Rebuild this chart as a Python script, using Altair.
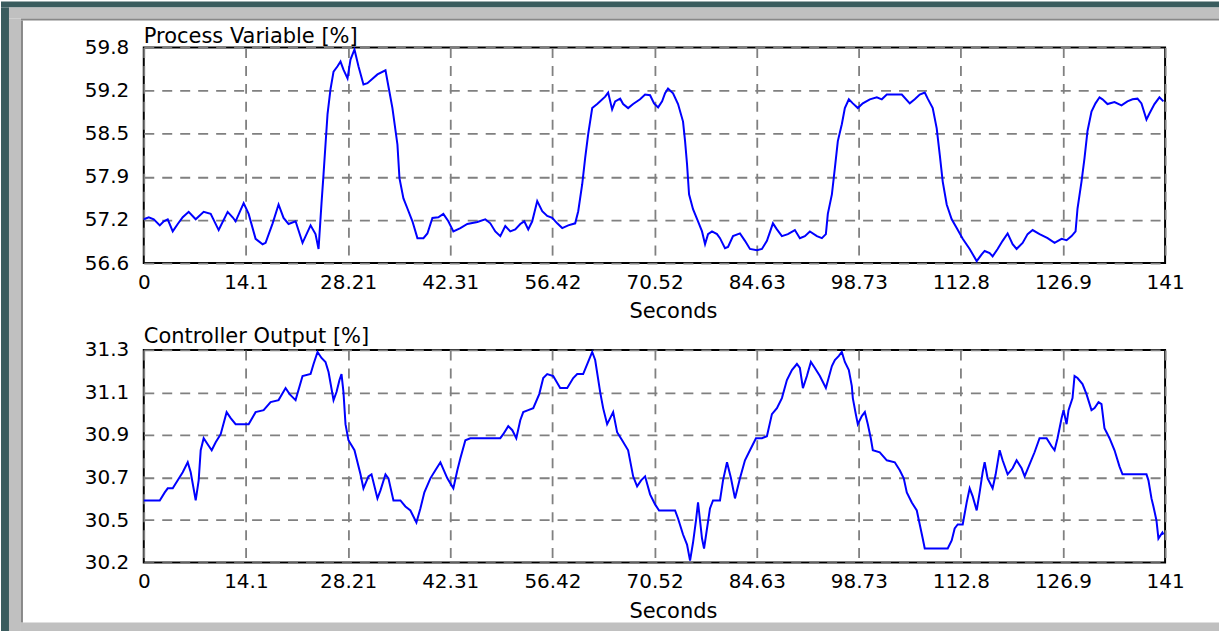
import altair as alt
import pandas as pd

# ---------------- data ----------------
pv_time = [0, 0.69, 1.38, 2.21, 2.76, 3.31, 4.00, 4.69, 5.38, 6.20,
           7.17, 8.27, 9.24, 10.34, 11.58, 12.27, 12.68, 13.79, 14.48, 15.44,
           16.41, 16.82, 17.79, 18.61, 19.30, 19.99, 20.96, 21.92, 23.03, 23.71,
           24.13, 24.54, 24.82, 25.09, 25.37, 25.78, 26.20, 26.75, 27.16, 27.57,
           28.13, 28.54, 29.09, 29.64, 30.33, 30.88, 32.26, 33.37, 33.78, 34.33,
           35.02, 35.30, 35.85, 36.40, 37.09, 37.78, 38.61, 39.16, 39.85, 40.67,
           41.36, 42.05, 42.74, 43.71, 44.67, 46.05, 47.15, 47.84, 48.53, 49.22,
           49.91, 50.60, 51.29, 51.98, 52.53, 53.08, 53.63, 54.32, 55.01, 55.70,
           56.39, 57.08, 57.77, 58.60, 59.56, 59.98, 60.53, 60.94, 61.35, 61.91,
           62.60, 63.01, 63.70, 64.11, 64.66, 65.08, 65.77, 66.18, 66.87, 67.56,
           68.52, 69.21, 69.90, 70.45, 71.01, 71.56, 71.97, 72.38, 73.07, 73.76,
           74.45, 74.73, 75.00, 75.28, 75.83, 76.52, 77.07, 77.49, 77.90, 78.45,
           79.14, 79.55, 80.24, 80.66, 81.35, 82.31, 83.00, 83.69, 84.66, 85.34,
           86.03, 86.86, 87.41, 88.10, 88.93, 89.89, 90.58, 91.27, 91.96, 92.93,
           93.62, 94.17, 94.44, 95.00, 95.41, 95.82, 96.37, 96.79, 97.34, 97.89,
           98.58, 99.27, 100.24, 101.20, 101.89, 102.58, 103.68, 104.65, 105.75, 106.44,
           107.13, 107.82, 108.23, 108.92, 109.47, 109.89, 110.30, 110.85, 111.54, 112.23,
           113.06, 114.02, 114.99, 115.68, 116.09, 116.78, 117.19, 117.88, 118.57, 119.26,
           119.95, 120.50, 121.33, 122.02, 122.71, 123.67, 124.78, 125.74, 126.71, 127.40,
           128.09, 128.64, 128.91, 129.46, 129.88, 130.29, 130.84, 131.39, 131.95, 132.36,
           133.05, 134.01, 134.98, 135.80, 136.50, 137.19, 137.74, 138.43, 138.84, 139.53,
           140.22, 140.77]
pv_value = [57.25, 57.28, 57.25, 57.16, 57.22, 57.25, 57.07, 57.18, 57.28, 57.36,
            57.25, 57.36, 57.33, 57.09, 57.36, 57.28, 57.22, 57.49, 57.33, 56.96,
            56.88, 56.90, 57.19, 57.47, 57.27, 57.18, 57.22, 56.90, 57.16, 57.03,
            56.81, 57.49, 57.92, 58.36, 58.81, 59.18, 59.44, 59.52, 59.59, 59.47,
            59.34, 59.62, 59.77, 59.52, 59.25, 59.27, 59.40, 59.46, 59.22, 58.90,
            58.36, 57.86, 57.56, 57.41, 57.22, 56.97, 56.97, 57.04, 57.27, 57.28,
            57.33, 57.22, 57.07, 57.12, 57.18, 57.21, 57.25, 57.19, 57.07, 57.00,
            57.15, 57.07, 57.10, 57.18, 57.22, 57.10, 57.22, 57.52, 57.37, 57.30,
            57.27, 57.19, 57.12, 57.16, 57.19, 57.37, 57.77, 58.16, 58.51, 58.90,
            58.96, 59.00, 59.07, 59.13, 58.88, 59.00, 59.04, 58.96, 58.90, 58.96,
            59.03, 59.10, 59.09, 58.97, 58.91, 59.00, 59.12, 59.19, 59.12, 58.96,
            58.70, 58.41, 58.07, 57.62, 57.40, 57.22, 57.07, 56.88, 57.03, 57.07,
            57.03, 56.97, 56.82, 56.84, 57.00, 57.04, 56.93, 56.81, 56.79, 56.81,
            56.93, 57.19, 57.10, 57.00, 57.03, 57.09, 56.97, 57.00, 57.07, 57.00,
            56.97, 57.03, 57.33, 57.62, 58.01, 58.41, 58.66, 58.90, 59.03, 58.97,
            58.90, 58.97, 59.03, 59.06, 59.03, 59.10, 59.10, 59.10, 58.97, 59.03,
            59.10, 59.13, 59.04, 58.90, 58.60, 58.21, 57.81, 57.47, 57.25, 57.12,
            56.96, 56.81, 56.63, 56.73, 56.78, 56.75, 56.70, 56.81, 56.93, 57.04,
            56.88, 56.81, 56.90, 57.03, 57.09, 57.03, 56.97, 56.90, 56.96, 56.94,
            57.00, 57.07, 57.41, 57.81, 58.16, 58.56, 58.85, 58.97, 59.06, 59.03,
            58.96, 58.99, 58.94, 59.00, 59.03, 59.04, 58.97, 58.73, 58.82, 58.96,
            59.06, 59.00]

co_time = [0, 2.21, 2.90, 3.31, 4.00, 4.69, 5.38, 6.07, 6.48, 7.17,
           7.58, 7.86, 8.27, 8.82, 9.38, 9.93, 10.62, 11.44, 12.00, 12.68,
           14.48, 15.44, 16.55, 17.51, 18.61, 19.58, 20.13, 20.96, 21.92, 23.03,
           23.44, 23.99, 24.54, 25.09, 25.51, 26.20, 26.61, 27.02, 27.30, 27.57,
           27.85, 28.26, 29.09, 29.92, 30.33, 31.02, 31.44, 32.26, 32.68, 33.37,
           33.78, 34.47, 35.43,
           36.12, 36.81, 37.64, 38.19, 38.74, 39.57, 40.26, 40.95, 41.91, 42.74,
           43.29, 43.71, 44.40, 45.08, 49.22, 49.63, 50.32, 50.88, 51.43, 51.98,
           52.39, 53.08, 53.77, 54.60, 55.15, 55.70, 56.53, 57.49, 58.46, 59.29,
           59.84, 60.66, 61.35, 61.91, 62.32, 63.01, 63.42, 63.97, 64.39, 64.80,
           65.35, 66.04, 66.87, 67.56, 68.11, 68.66, 69.21, 69.90, 70.59, 71.14,
           73.35, 73.76, 74.45, 75.00, 75.42, 75.83, 76.24, 76.52, 77.07, 77.35,
           77.76, 78.17, 78.59, 79.55, 79.97, 80.52, 81.07, 81.62, 82.31, 83.00,
           83.69, 84.52, 85.34, 86.03, 86.72, 87.41, 88.10, 88.79, 89.48, 90.17,
           90.58, 91.00, 91.55, 92.10, 92.65, 93.34, 94.17, 95.00, 95.41, 95.96,
           96.37, 96.79, 97.34, 97.75, 97.89, 98.30, 98.58, 99.13, 99.55, 99.96,
           100.37, 100.65, 101.61, 102.58, 103.68, 104.37, 104.92, 105.34, 106.03, 106.72,
           107.13, 107.54, 107.82, 110.99, 111.54, 111.95, 112.37, 113.06, 113.61, 114.02,
           114.44, 114.99, 115.40, 115.81, 116.09, 116.50, 117.19, 117.61, 118.16, 118.57,
           119.26, 119.95, 120.50, 121.19, 121.61, 122.29, 122.98, 123.67, 124.64, 125.33,
           125.74, 126.15, 126.71, 126.98, 127.40, 127.67, 128.22, 128.50, 128.91, 129.60,
           130.15, 130.84, 131.26, 131.81, 132.22, 132.63, 133.33, 134.02, 134.70, 135.12,
           138.43, 138.70, 139.12, 139.39, 139.81, 140.08, 140.63, 140.77]
co_value = [30.55, 30.55, 30.59, 30.61, 30.61, 30.65, 30.69, 30.74, 30.69, 30.55,
            30.65, 30.80, 30.86, 30.83, 30.80, 30.84, 30.88, 30.99, 30.96, 30.93,
            30.93, 30.99, 31.00, 31.04, 31.05, 31.11, 31.08, 31.05, 31.17, 31.18,
            31.23, 31.29, 31.26, 31.24, 31.19, 31.05, 31.09, 31.15, 31.18, 31.09,
            30.93, 30.85, 30.80, 30.68, 30.61, 30.67, 30.68, 30.56, 30.60, 30.68,
            30.66, 30.55, 30.55,
            30.52, 30.50, 30.44, 30.51, 30.59, 30.66, 30.70, 30.74, 30.66, 30.61,
            30.70, 30.76, 30.85, 30.86, 30.86, 30.88, 30.92, 30.90, 30.86, 30.95,
            30.99, 31.00, 31.01, 31.08, 31.16, 31.18, 31.17, 31.11, 31.11, 31.16,
            31.18, 31.18, 31.24, 31.29, 31.25, 31.09, 31.01, 30.93, 30.96, 30.99,
            30.89, 30.85, 30.80, 30.67, 30.62, 30.65, 30.67, 30.58, 30.53, 30.50,
            30.50, 30.46, 30.38, 30.33, 30.25, 30.34, 30.45, 30.54, 30.36, 30.31,
            30.41, 30.51, 30.55, 30.55, 30.65, 30.74, 30.66, 30.56, 30.66, 30.75,
            30.80, 30.86, 30.86, 30.87, 30.98, 31.01, 31.06, 31.15, 31.20, 31.23,
            31.21, 31.11, 31.17, 31.24, 31.21, 31.17, 31.11, 31.22, 31.25, 31.27,
            31.29, 31.24, 31.20, 31.12, 31.06, 30.98, 30.93, 30.97, 30.99, 30.93,
            30.86, 30.80, 30.79, 30.75, 30.74, 30.70, 30.66, 30.59, 30.54, 30.50,
            30.43, 30.36, 30.31, 30.31, 30.35, 30.41, 30.43, 30.43, 30.54, 30.61,
            30.57, 30.50, 30.59, 30.69, 30.74, 30.66, 30.61, 30.68, 30.80, 30.75,
            30.68, 30.71, 30.75, 30.71, 30.67, 30.73, 30.79, 30.86, 30.86, 30.82,
            30.80, 30.86, 30.96, 31.00, 30.93, 31.00, 31.06, 31.17, 31.16, 31.13,
            31.08, 31.00, 31.01, 31.04, 31.03, 30.91, 30.86, 30.80, 30.72, 30.68,
            30.68, 30.65, 30.56, 30.52, 30.45, 30.36, 30.39, 30.38]

x_ticks = [0, 14.1, 28.21, 42.31, 56.42, 70.52, 84.63, 98.73, 112.8, 126.9, 141]
pv_ticks = [56.6, 57.24, 57.88, 58.52, 59.16, 59.8]
co_ticks = [30.24, 30.452, 30.664, 30.876, 31.088, 31.3]

pv_title = "Process Variable [%]"
co_title = "Controller Output [%]"
x_title = "Seconds"

# ---------------- styling ----------------
FONT = "DejaVu Sans"
BLUE = "#0000ff"
TEAL = "#3a5c5e"
GRAY = "#c0c0c0"
DARK = "#888888"
GRID = "#808080"
PW = 1023
H1 = 216
H2 = 213


def x_axis():
    return alt.Axis(values=x_ticks, format=".5~r", grid=True, gridDash=[10, 8],
                    gridColor=GRID, gridWidth=1.8, domain=False, ticks=False,
                    labelPadding=9, labelFont=FONT, labelFontSize=20,
                    labelColor="black", labelFlush=False, labelOverlap=False,
                    title=x_title, titleFont=FONT, titleFontSize=21,
                    titleFontWeight="normal", titleColor="black",
                    titlePadding=9, titleX=530, titleAlign="center")


def y_axis(vals):
    return alt.Axis(values=vals, format=".1f", grid=True, gridDash=[10, 8],
                    gridColor=GRID, gridWidth=1.8, domain=False, ticks=False,
                    labelPadding=15, labelFont=FONT, labelFontSize=20,
                    labelColor="black", labelFlush=False, labelOverlap=False,
                    title=None)


def deco(rects):
    out = []
    for (a, b, c, d, col) in rects:
        out.append(
            alt.Chart(alt.Data(values=[{}])).mark_rect(color=col).encode(
                x=alt.value(a), x2=alt.value(b), y=alt.value(c), y2=alt.value(d)))
    return out


def panel_title(text, dy):
    return alt.Chart(alt.Data(values=[{}])).mark_text(
        text=text, align="left", baseline="alphabetic", font=FONT, fontSize=21,
        color="black").encode(x=alt.value(0), y=alt.value(dy))


top_frame = [
    (-143, 1077, -46, -40, TEAL),
    (-143, -135, -40, 277, TEAL),
    (-135, 1077, -40, -29, GRAY),
    (-135, -123, -29, 277, GRAY),
    (-123, 1077, -29, -27, DARK),
    (-123, -121, -27, 277, DARK),
]
bottom_frame = [
    (-143, -135, -26, 282, TEAL),
    (-135, -123, -26, 282, GRAY),
    (-123, 1077, 273, 282, GRAY),
    (-123, -121, -26, 273, DARK),
]

pv_df = pd.DataFrame({"t": pv_time, "v": pv_value})
co_df = pd.DataFrame({"t": co_time, "v": co_value})

pv_line = alt.Chart(pv_df).mark_line(color=BLUE, strokeWidth=2).encode(
    x=alt.X("t:Q", scale=alt.Scale(domain=[0, 141], nice=False, zero=False), axis=x_axis()),
    y=alt.Y("v:Q", scale=alt.Scale(domain=[56.6, 59.8], nice=False, zero=False),
            axis=y_axis(pv_ticks)),
)
co_line = alt.Chart(co_df).mark_line(color=BLUE, strokeWidth=2).encode(
    x=alt.X("t:Q", scale=alt.Scale(domain=[0, 141], nice=False, zero=False), axis=x_axis()),
    y=alt.Y("v:Q", scale=alt.Scale(domain=[30.24, 31.3], nice=False, zero=False),
            axis=y_axis(co_ticks)),
)

top = alt.layer(*deco(top_frame), panel_title(pv_title, -4), pv_line).properties(
    width=PW, height=H1)
bottom = alt.layer(*deco(bottom_frame), panel_title(co_title, -7), co_line).properties(
    width=PW, height=H2)

chart = alt.vconcat(top, bottom, spacing=87, bounds="flush").properties(
    padding=0, background="white"
).configure_view(stroke="black", strokeWidth=2)

chart.save("out.html", embed_options={"renderer": "svg", "actions": False})
